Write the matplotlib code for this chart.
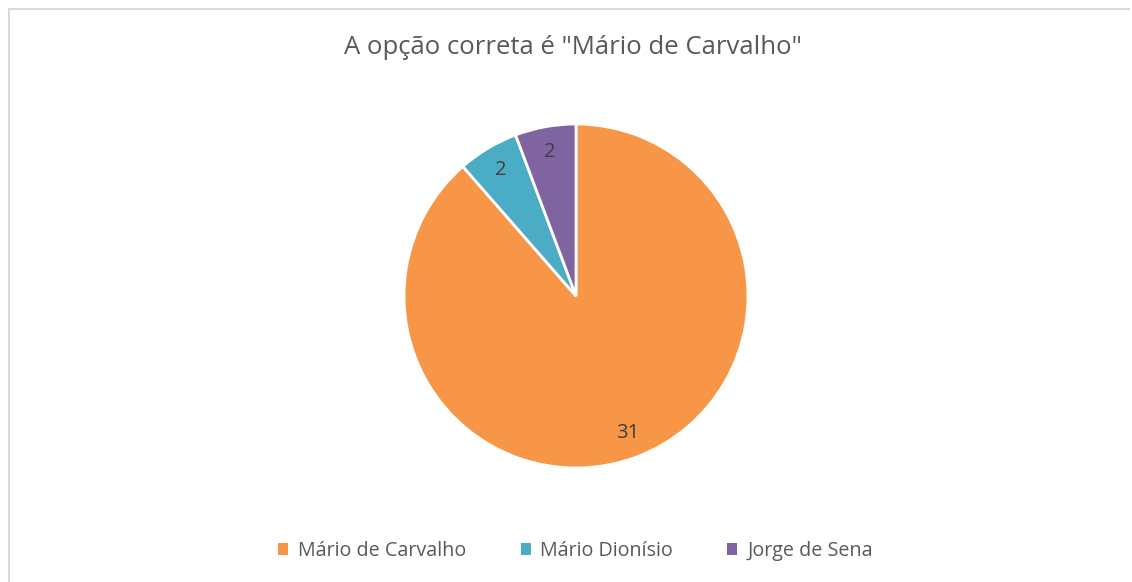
import matplotlib
matplotlib.use("Agg")
import matplotlib.pyplot as plt
from matplotlib.lines import Line2D
from matplotlib.patches import Patch

categories = ["Mário de Carvalho", "Mário Dionísio", "Jorge de Sena"]
values = [31, 2, 2]
colors = ["#F79646", "#4BACC6", "#8064A2"]
title = 'A opção correta é "Mário de Carvalho"'

plt.rcParams['font.family'] = ['Open Sans', 'DejaVu Sans']
W, H = 1132, 582
fig = plt.figure(figsize=(W/100, H/100), dpi=100)
fig.patch.set_facecolor('white')

# chart border (top and left visible)
fig.add_artist(Line2D([8.5/W, 8.5/W], [0, 1 - 8.5/H], transform=fig.transFigure, color='#D9D9D9', lw=1.5))
fig.add_artist(Line2D([8.5/W, 1129/W], [1 - 8.5/H, 1 - 8.5/H], transform=fig.transFigure, color='#D9D9D9', lw=1.5))

cx, cy, r = 576, 296, 172
ax = fig.add_axes([(cx - r)/W, (H - cy - r)/H, 2*r/W, 2*r/H])
total = sum(values)
wedges, texts, autotexts = ax.pie(
    values, colors=colors, startangle=90, counterclock=False,
    autopct=lambda p: f"{round(p*total/100):d}", pctdistance=0.85,
    wedgeprops=dict(edgecolor='white', linewidth=2),
    textprops=dict(color='#404040', fontsize=14.5))
ax.set_aspect('equal')
ax.set_xlim(-1, 1)
ax.set_ylim(-1, 1)

fig.text(0.5065, 1 - 47/H, title, ha='center', va='center', fontsize=18.5, color='#595959')

handles = [Patch(facecolor=c, edgecolor='none') for c in colors]
leg = fig.legend(handles, categories, loc='center', bbox_to_anchor=(0.5085, 1 - 551/H),
                 ncol=3, frameon=False, fontsize=14.2, handlelength=0.5, handleheight=0.5,
                 handletextpad=0.5, columnspacing=2.75)
for t in leg.get_texts():
    t.set_color('#595959')

fig.savefig("out.png", dpi=100, facecolor='white')
